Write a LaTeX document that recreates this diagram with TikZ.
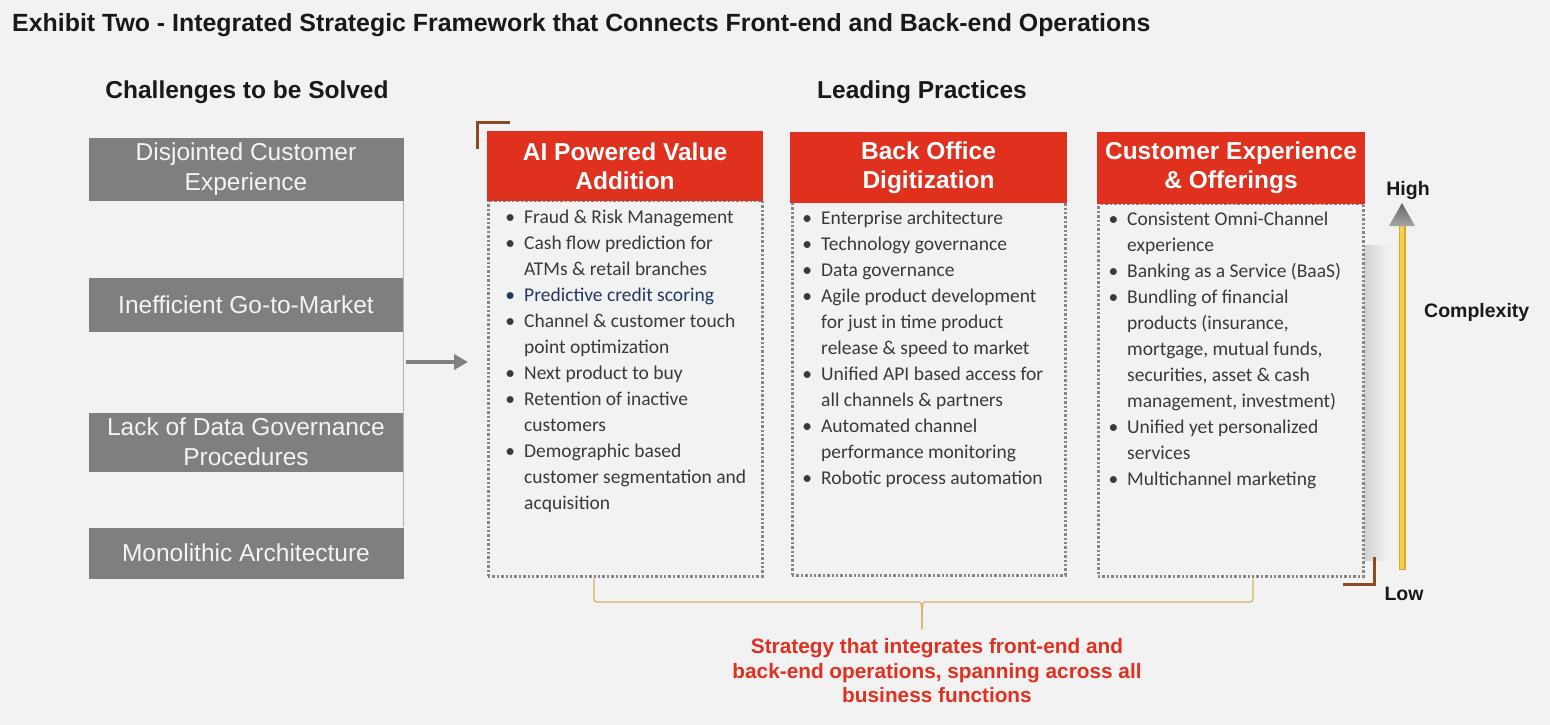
\documentclass[tikz,border=0pt]{standalone}
\usepackage{fontspec}
\setmainfont{Liberation Sans}
\newfontfamily\bodyfont{Carlito}
\usetikzlibrary{arrows.meta,positioning}

\definecolor{bgc}{HTML}{F2F2F2}
\definecolor{boxgray}{HTML}{7F7F7F}
\definecolor{boxtext}{HTML}{F4F4F4}
\definecolor{hdrred}{HTML}{E0311F}
\definecolor{bodytext}{HTML}{3A3A3A}
\definecolor{bluetext}{HTML}{1F3864}
\definecolor{dotgray}{HTML}{868686}
\definecolor{brownmark}{HTML}{8A4B1F}
\definecolor{yellowfill}{HTML}{F6CF50}
\definecolor{yellowedge}{HTML}{DDAA2A}
\definecolor{bracecol}{HTML}{D6B460}
\definecolor{strategyred}{HTML}{E0301F}
\definecolor{arrowgray}{HTML}{808080}

\newcommand{\itembul}{\llap{\textbullet\hspace{9pt}}}

\begin{document}
\begin{tikzpicture}[x=1pt,y=-1pt,>={Triangle[length=14pt,width=15pt]},
    challenge/.style={fill=boxgray,text=boxtext,minimum width=315pt,inner sep=0pt,
        align=center,font=\fontsize{24.5}{30}\selectfont},
    header/.style={fill=hdrred,text=white,inner sep=0pt,align=center,
        font=\bfseries\fontsize{24.5}{29}\selectfont},
    panel/.style={draw=dotgray,line width=3pt,dash pattern=on 2.4pt off 2pt,inner sep=0pt},
    items/.style={anchor=north west,inner sep=0pt,align=left,text=bodytext,
        font=\bodyfont\fontsize{19.5}{26}\selectfont},
    bigtitle/.style={inner sep=0pt,text=black!90,font=\bfseries\fontsize{24.9}{29}\selectfont},
    subhead/.style={inner sep=0pt,text=black!90,font=\bfseries\fontsize{24.5}{29}\selectfont},
    axislabel/.style={inner sep=0pt,text=black!90,font=\bfseries\fontsize{19.5}{24}\selectfont},
    bracket/.style={draw=brownmark,line width=3pt},
    brace/.style={draw=bracecol,line width=1.3pt,rounded corners=3pt}]

    % background
    \fill[bgc] (0,0) rectangle (1550,725);

    % titles
    \node[bigtitle,anchor=base west] (title) at (12,32)
        {Exhibit Two - Integrated Strategic Framework that Connects Front-end and Back-end Operations};
    \node[subhead,anchor=base] (chal) at (247,99) {Challenges to be Solved};
    \node[subhead,anchor=base] (lead) at (922,99) {Leading Practices};

    % challenges
    \node[challenge,minimum height=63pt] (ch1) at (246,169.5) {Disjointed Customer\\Experience};
    \node[challenge,minimum height=54pt] (ch2) at (246,305) {Inefficient Go-to-Market};
    \node[challenge,minimum height=59pt] (ch3) at (246,442) {Lack of Data Governance\\Procedures};
    \node[challenge,minimum height=51pt] (ch4) at (246,553) {Monolithic Architecture};
    \draw[black!30,line width=1.2pt] (ch1.south east) -- (ch4.north east);

    \coordinate (gin) at (406,362);
    \coordinate (gout) at (468,362);
    \draw[->,arrowgray,line width=4pt] (gin) -- (gout);

    % shadow of the last panel
    \shade[left color=black!18,right color=bgc] (1364,245) rectangle (1388,560);

    % panels
    \node[panel,minimum width=274pt,minimum height=376pt] (panel1) at (625,388) {};
    \node[panel,minimum width=273pt,minimum height=375pt] (panel2) at (928.5,387.5) {};
    \node[panel,minimum width=265pt,minimum height=373pt] (panel3) at (1230.5,389.5) {};

    \node[header,minimum width=276pt,minimum height=70pt] (hdr1) at (625,166) {AI Powered Value\\Addition};
    \node[header,minimum width=277pt,minimum height=71pt] (hdr2) at (928.5,167) {\rule{0pt}{19pt}Back Office\\Digitization};
    \node[header,minimum width=268pt,minimum height=72pt] (hdr3) at (1231,167.5) {Customer Experience\\\& Offerings};

    \draw[bracket] (510,122) -- (477,122) -- (477,149);
    \draw[bracket] (1343,584) -- (1374,584) -- (1374,557);

    % practices
    \node[items] (list1) at (524,205) {\rule{0pt}{18pt}\itembul Fraud \& Risk Management\\
        \itembul Cash flow prediction for\\
        ATMs \& retail branches\\
        \textcolor{bluetext}{\itembul Predictive credit scoring}\\
        \itembul Channel \& customer touch\\
        point optimization\\
        \itembul Next product to buy\\
        \itembul Retention of inactive\\
        customers\\
        \itembul Demographic based\\
        customer segmentation and\\
        acquisition};
    \node[items] (list2) at (821,206) {\rule{0pt}{18pt}\itembul Enterprise architecture\\
        \itembul Technology governance\\
        \itembul Data governance\\
        \itembul Agile product development\\
        for just in time product\\
        release \& speed to market\\
        \itembul Unified API based access for\\
        all channels \& partners\\
        \itembul Automated channel\\
        performance monitoring\\
        \itembul Robotic process automation};
    \node[items] (list3) at (1127,207) {\rule{0pt}{18pt}\itembul Consistent Omni-Channel\\
        experience\\
        \itembul Banking as a Service (BaaS)\\
        \itembul Bundling of financial\\
        products (insurance,\\
        mortgage, mutual funds,\\
        securities, asset \& cash\\
        management, investment)\\
        \itembul Unified yet personalized\\
        services\\
        \itembul Multichannel marketing};

    % complexity axis
    \coordinate (cxlow) at (1402,570);
    \coordinate (cxneck) at (1402,224);
    \coordinate (cxhigh) at (1402,203);
    \draw[yellowedge,line width=7pt] (cxlow) -- (cxneck);
    \draw[yellowfill,line width=4.4pt,shorten <=1.3pt] (cxlow) -- (cxneck);
    \shade[top color=black!60,bottom color=black!35] (cxhigh) -- ++(13,23) -- ++(-26,0) -- cycle;
    \node[axislabel,anchor=base] (high) at (1408,195) {High};
    \node[axislabel,anchor=base] (low) at (1404,600) {Low};
    \node[axislabel,anchor=base west] (cplx) at (1424,317) {Complexity};

    % brace and strategy
    \coordinate (bl) at (594,578);
    \coordinate (br) at (1253,578);
    \coordinate (btip) at (922,629);
    \draw[brace] (bl) |- (916,602) .. controls (921,602) .. (922,612) -- (btip);
    \draw[brace] (br) |- (928,602) .. controls (923,602) .. (922,612) -- (btip);
    \node[align=center,inner sep=0pt,text=strategyred,font=\bfseries\fontsize{20.8}{24.5}\selectfont]
        (strat) at (937,671) {Strategy that integrates front-end and\\back-end operations, spanning across all\\business functions};

\end{tikzpicture}
\end{document}
